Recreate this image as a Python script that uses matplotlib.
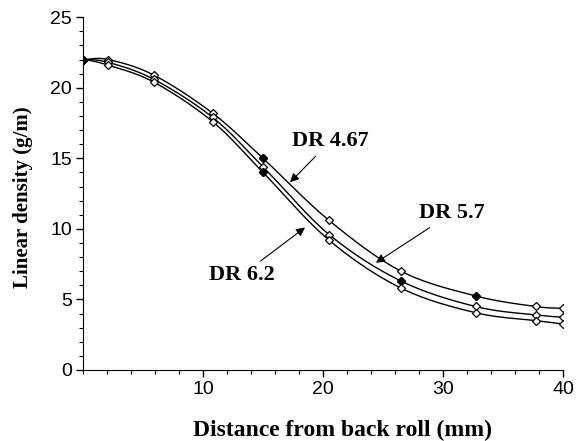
import numpy as np
import matplotlib.pyplot as plt
from matplotlib.ticker import MultipleLocator

# distance from back roll (mm)
distance = [0, 2.1, 5.9, 10.8, 15.0, 20.5, 26.5, 32.7, 37.7, 40.0]

# linear density (g/m) for each draft ratio
dr_467 = [22.0, 22.0, 20.9, 18.2, 15.0, 10.6, 7.0, 5.25, 4.5, 4.37]
dr_57 = [22.0, 21.8, 20.6, 17.9, 14.4, 9.6, 6.3, 4.5, 3.9, 3.74]
dr_62 = [22.0, 21.6, 20.4, 17.6, 14.0, 9.2, 5.8, 4.06, 3.5, 3.26]

series = [dr_467, dr_57, dr_62]
filled = [
    [0, 4, 7],
    [0, 6],
    [0, 4],
]


def smooth(x, y, n=20):
    # catmull-rom curve through the measured points, for the drawn line only
    x = np.asarray(x, float)
    y = np.asarray(y, float)
    px = np.concatenate([[x[0] - (x[1] - x[0])], x, [x[-1] + (x[-1] - x[-2])]])
    py = np.concatenate([[y[0]], y, [y[-1] + (y[-1] - y[-2])]])
    xs, ys = [], []
    for i in range(1, len(px) - 2):
        t = np.linspace(0, 1, n, endpoint=False)
        for arr, out in ((px, xs), (py, ys)):
            p0, p1, p2, p3 = arr[i - 1], arr[i], arr[i + 1], arr[i + 2]
            out.extend(0.5 * (2 * p1 + (-p0 + p2) * t
                              + (2 * p0 - 5 * p1 + 4 * p2 - p3) * t ** 2
                              + (-p0 + 3 * p1 - 3 * p2 + p3) * t ** 3))
    xs.append(x[-1])
    ys.append(y[-1])
    return xs, ys


fig = plt.figure(figsize=(5.8, 4.41), dpi=100)
ax = fig.add_axes([0.143, 0.161, 0.828, 0.8])

for ys, fill in zip(series, filled):
    sx, sy = smooth(distance, ys)
    ax.plot(sx, sy, color='black', lw=1.0)
    ax.plot(distance, ys, linestyle='none', marker='D', ms=4,
            mfc='white', mec='black', mew=0.9)
    ax.plot([distance[i] for i in fill], [ys[i] for i in fill],
            linestyle='none', marker='D', ms=4, color='black')

serif = 'Liberation Serif'
arrow = dict(arrowstyle='-|>', color='black', lw=0.8, mutation_scale=13,
             shrinkA=2, shrinkB=0)
ax.annotate('DR 4.67', xy=(17.25, 13.3), xytext=(20.6, 16.2),
            ha='center', va='center', fontsize=16, fontweight='bold',
            family=serif, arrowprops=arrow)
ax.annotate('DR 5.7', xy=(24.4, 7.6), xytext=(30.7, 11.1),
            ha='center', va='center', fontsize=16, fontweight='bold',
            family=serif, arrowprops=arrow)
ax.annotate('DR 6.2', xy=(18.5, 10.1), xytext=(13.2, 6.7),
            ha='center', va='center', fontsize=16, fontweight='bold',
            family=serif, arrowprops=arrow)

ax.set_xlim(0, 40)
ax.set_ylim(0, 25)
ax.xaxis.set_major_locator(MultipleLocator(10))
ax.xaxis.set_minor_locator(MultipleLocator(2))
ax.yaxis.set_major_locator(MultipleLocator(5))
ax.yaxis.set_minor_locator(MultipleLocator(1))
ax.set_xticks([10, 20, 30, 40])
ax.spines['top'].set_visible(False)
ax.spines['right'].set_visible(False)
ax.tick_params(which='major', direction='out', length=5, width=1,
               labelsize=14, pad=3)
ax.tick_params(which='minor', direction='out', length=3, width=0.8)
for lab in ax.get_xticklabels() + ax.get_yticklabels():
    lab.set_family('Liberation Sans')

ax.set_xlabel('Distance from back roll (mm)', fontsize=17,
              fontweight='bold', family=serif)
ax.set_ylabel('Linear density (g/m)', fontsize=15, fontweight='bold',
              family=serif)
ax.xaxis.set_label_coords(0.54, -0.142)
ax.yaxis.set_label_coords(-0.104, 0.49)

fig.savefig('out.png', dpi=100)
